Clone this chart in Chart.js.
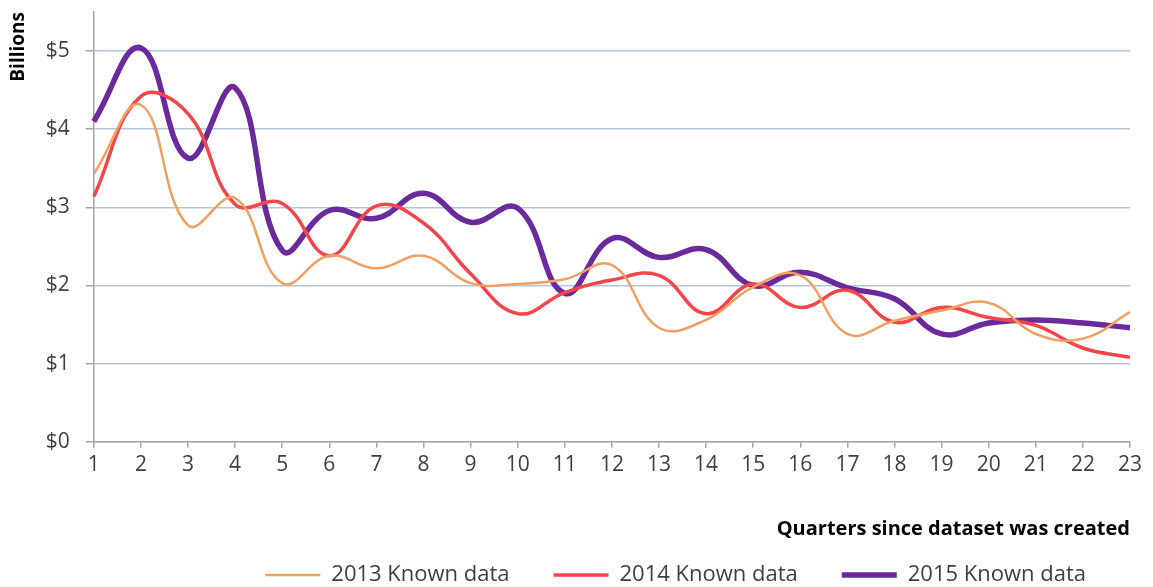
<!DOCTYPE html>
<html>
<head>
<meta charset="utf-8">
<script src="https://cdn.jsdelivr.net/npm/chart.js@4/dist/chart.umd.min.js"></script>
<style>
  body { margin: 0; background: #fff; }
  #wrap { width: 1153px; height: 587px; }
</style>
</head>
<body>
<div id="wrap"><canvas id="grafico"></canvas></div>
<script>
// Datos del gráfico
const trimestres = ["1","2","3","4","5","6","7","8","9","10","11","12","13","14","15","16","17","18","19","20","21","22","23"];
const datos2013 = [3.43, 4.31, 2.77, 3.12, 2.03, 2.38, 2.22, 2.38, 2.03, 2.02, 2.08, 2.26, 1.46, 1.56, 1.98, 2.13, 1.38, 1.55, 1.68, 1.78, 1.38, 1.32, 1.66];
const datos2014 = [3.14, 4.42, 4.2, 3.04, 3.05, 2.38, 3.02, 2.8, 2.15, 1.64, 1.91, 2.07, 2.13, 1.64, 2.02, 1.72, 1.94, 1.53, 1.72, 1.59, 1.49, 1.2, 1.08];
const datos2015 = [4.1, 5.04, 3.63, 4.53, 2.45, 2.96, 2.86, 3.18, 2.81, 2.99, 1.9, 2.6, 2.36, 2.46, 2.0, 2.17, 1.97, 1.83, 1.38, 1.52, 1.56, 1.52, 1.46];
const nombresSeries = ["2013 Known data", "2014 Known data", "2015 Known data"];

const fuente = "'Open Sans', sans-serif";
const grisTexto = "#404040";
const grisEje = "#A6A6A6";

document.addEventListener("DOMContentLoaded", () => {
    const ctx = document.getElementById("grafico").getContext("2d");
    new Chart(ctx, {
        type: "line",
        data: {
            labels: trimestres,
            datasets: [
                { label: nombresSeries[0], data: datos2013, borderColor: "#EFA062", borderWidth: 2.5 },
                { label: nombresSeries[1], data: datos2014, borderColor: "#F4464A", borderWidth: 3.5 },
                { label: nombresSeries[2], data: datos2015, borderColor: "#6A2A9C", borderWidth: 5.5 }
            ].map(d => Object.assign(d, { tension: 0.42, pointRadius: 0, fill: false, backgroundColor: d.borderColor }))
        },
        options: {
            responsive: true,
            maintainAspectRatio: false,
            animation: false,
            layout: { padding: { top: 12, right: 23, left: 7, bottom: -9 } },
            plugins: {
                tooltip: { enabled: false },
                legend: {
                    position: "bottom",
                    align: "end",
                    labels: {
                        boxWidth: 55,
                        boxHeight: 0,
                        padding: 44,
                        color: grisTexto,
                        font: { family: fuente, size: 22 }
                    }
                }
            },
            scales: {
                x: {
                    grid: { drawOnChartArea: false, tickLength: 6, color: grisEje, lineWidth: 1.5 },
                    border: { color: grisEje, width: 1.5 },
                    ticks: { color: grisTexto, font: { family: fuente, size: 21 }, maxRotation: 0, padding: 5 },
                    title: {
                        display: true,
                        text: "Quarters since dataset was created",
                        align: "end",
                        color: "#000",
                        font: { family: fuente, size: 20, weight: "bold" },
                        padding: { top: 34, bottom: -21 }
                    }
                },
                y: {
                    min: 0,
                    max: 5.5,
                    afterBuildTicks: axis => {
                        axis.ticks = axis.ticks.filter(t => Number.isInteger(t.value));
                    },
                    // el eje no necesita margen arriba: el 5.5 no lleva etiqueta
                    afterFit: axis => {
                        axis.paddingTop = 0;
                    },
                    grid: { color: "#B6C5DE", lineWidth: 1.5, tickLength: 8, tickColor: grisEje },
                    border: { color: grisEje, width: 1.5 },
                    ticks: {
                        stepSize: 1,
                        color: grisTexto,
                        padding: 16,
                        font: { family: fuente, size: 21 },
                        callback: v => "$" + v
                    },
                    title: {
                        display: true,
                        text: "Billions",
                        align: "end",
                        color: "#000",
                        font: { family: fuente, size: 19, weight: "bold" },
                        padding: { top: 0, bottom: 0 }
                    }
                }
            }
        }
    });
});
</script>
</body>
</html>
